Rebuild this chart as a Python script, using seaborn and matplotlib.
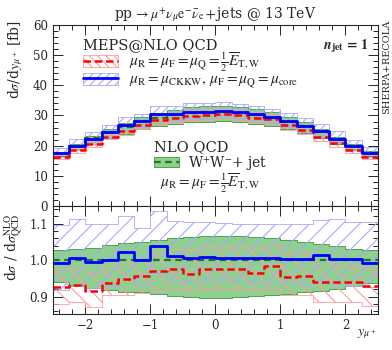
import numpy as np
import matplotlib
matplotlib.use('Agg')
import matplotlib.pyplot as plt
import seaborn as sns
from matplotlib.patches import Patch
from matplotlib.lines import Line2D
from matplotlib.ticker import MultipleLocator

# bin edges in y_mu+
edges = np.linspace(-2.5, 2.5, 21)

# upper panel central values [fb]
nlo = [17.6, 19.9, 22.4, 24.4, 26.2, 28.1, 29.3, 30.0, 30.9, 31.0,
       31.2, 30.8, 30.2, 29.3, 28.0, 26.4, 24.5, 22.2, 19.9, 17.7]
meps_ckkw = [17.6, 20.0, 22.3, 24.4, 26.8, 28.2, 30.4, 30.4, 31.1, 31.3,
             31.4, 31.0, 30.4, 29.5, 28.1, 26.5, 24.8, 22.3, 20.0, 17.6]
meps_et = [16.3, 18.6, 20.5, 22.9, 24.9, 26.9, 28.4, 29.3, 29.7, 30.2,
           30.5, 30.1, 29.1, 28.8, 26.7, 25.2, 23.0, 20.9, 18.7, 16.4]

# ratio panel (to NLO central)
r_ckkw = [0.992, 1.006, 0.994, 1.001, 1.023, 1.001, 1.038, 1.011, 1.006, 1.009,
          1.007, 1.006, 1.006, 1.006, 1.004, 1.004, 1.013, 1.004, 1.004, 0.993]
r_ckkw_hi = [1.097, 1.113, 1.100, 1.100, 1.120, 1.088, 1.135, 1.106, 1.104, 1.104,
             1.102, 1.100, 1.100, 1.100, 1.100, 1.100, 1.110, 1.114, 1.105, 1.105]
r_ckkw_lo = [0.918, 0.930, 0.925, 0.930, 0.950, 0.935, 0.965, 0.945, 0.940, 0.945,
             0.945, 0.942, 0.940, 0.940, 0.938, 0.935, 0.945, 0.935, 0.930, 0.927]
r_et = [0.926, 0.932, 0.915, 0.938, 0.950, 0.956, 0.970, 0.976, 0.961, 0.975,
        0.976, 0.976, 0.965, 0.984, 0.955, 0.956, 0.940, 0.940, 0.940, 0.929]
r_et_hi = [0.975, 0.975, 0.965, 0.985, 0.995, 1.000, 1.020, 1.030, 1.030, 1.035,
           1.035, 1.035, 1.030, 1.045, 1.020, 1.020, 1.000, 0.990, 0.985, 0.975]
r_et_lo = [0.880, 0.885, 0.872, 0.905, 0.905, 0.910, 0.915, 0.920, 0.915, 0.920,
           0.920, 0.920, 0.915, 0.925, 0.905, 0.905, 0.885, 0.885, 0.885, 0.875]
r_nlo_hi = [1.027, 1.032, 1.034, 1.042, 1.047, 1.050, 1.056, 1.060, 1.063, 1.066,
            1.066, 1.065, 1.063, 1.060, 1.056, 1.050, 1.045, 1.038, 1.032, 1.027]
r_nlo_lo = [0.940, 0.932, 0.925, 0.918, 0.914, 0.912, 0.907, 0.903, 0.900, 0.898,
            0.898, 0.900, 0.902, 0.904, 0.907, 0.912, 0.916, 0.922, 0.930, 0.937]

sns.set_style('ticks')
plt.rcParams['font.family'] = ['DejaVu Serif']
plt.rcParams['mathtext.fontset'] = 'stix'
plt.rcParams['hatch.linewidth'] = 0.8
plt.rcParams['font.size'] = 9

GREEN_FILL = '#8fcf8f'
GREEN_EDGE = '#3a9a3a'
GREEN_LINE = '#1f7a1f'
BLUE_HATCH = '#a8a8ff'
RED_HATCH = '#ff9c9c'


def ext(v):
    v = np.asarray(v, dtype=float)
    return np.append(v, v[-1])


def step(ax, vals, **kw):
    sns.lineplot(x=edges, y=ext(vals), drawstyle='steps-post', estimator=None,
                 ax=ax, legend=False, **kw)


def band(ax, lo, hi, **kw):
    ax.fill_between(edges, ext(lo), ext(hi), step='post', **kw)


fig = plt.figure(figsize=(3.92, 3.5), dpi=100)
ax1 = fig.add_axes([0.135, 0.411, 0.829, 0.518])
ax2 = fig.add_axes([0.135, 0.103, 0.829, 0.308], sharex=ax1)

nlo_a = np.asarray(nlo)
# upper panel
band(ax1, nlo_a * r_nlo_lo, nlo_a * r_nlo_hi, facecolor=GREEN_FILL, edgecolor=GREEN_EDGE, lw=0.6, zorder=1)
band(ax1, nlo_a * r_et_lo, nlo_a * r_et_hi, facecolor='none', edgecolor=RED_HATCH, hatch='\\\\\\\\', lw=0.6, zorder=2)
band(ax1, nlo_a * r_ckkw_lo, nlo_a * r_ckkw_hi, facecolor='none', edgecolor=BLUE_HATCH, hatch='////', lw=0.6, zorder=2)
step(ax1, nlo, color=GREEN_LINE, lw=1.6, linestyle=(0, (3, 2)), zorder=3)
step(ax1, meps_et, color='red', lw=1.8, linestyle=(0, (3, 1.5)), zorder=4)
step(ax1, meps_ckkw, color='blue', lw=2.0, zorder=5)

# ratio panel
band(ax2, r_nlo_lo, r_nlo_hi, facecolor=GREEN_FILL, edgecolor=GREEN_EDGE, lw=0.6, zorder=1)
band(ax2, r_et_lo, r_et_hi, facecolor='none', edgecolor=RED_HATCH, hatch='\\\\', lw=0.6, zorder=2)
band(ax2, r_ckkw_lo, r_ckkw_hi, facecolor='none', edgecolor=BLUE_HATCH, hatch='//', lw=0.6, zorder=2)
step(ax2, np.ones(20), color=GREEN_LINE, lw=1.6, linestyle=(0, (3, 2)), zorder=3)
step(ax2, r_et, color='red', lw=1.8, linestyle=(0, (3, 1.5)), zorder=4)
step(ax2, r_ckkw, color='blue', lw=2.0, zorder=5)

for ax in (ax1, ax2):
    ax.set_xlim(-2.5, 2.5)
    ax.xaxis.set_major_locator(MultipleLocator(1))
    ax.xaxis.set_minor_locator(MultipleLocator(0.2))
    ax.tick_params(which='both', direction='in', top=True, right=True, width=0.7)
    ax.tick_params(which='major', length=7, labelsize=8.5)
    ax.tick_params(which='minor', length=3.5)
    ax.set_xlabel('')
    ax.set_ylabel('')
    for s in ax.spines.values():
        s.set_linewidth(0.8)

ax1.set_ylim(0, 60)
ax1.yaxis.set_major_locator(MultipleLocator(10))
ax1.yaxis.set_minor_locator(MultipleLocator(2))
ax1.tick_params(labelbottom=False)
ax2.set_ylim(0.853, 1.148)
ax2.yaxis.set_major_locator(MultipleLocator(0.1))
ax2.yaxis.set_minor_locator(MultipleLocator(0.02))
ax2.set_yticks([0.9, 1.0, 1.1])
ax2.set_yticklabels(['0.9', '1.0', '1.1'])

ax1.set_title(r'pp$\,\rightarrow\mu^{+}\nu_{\mu}\mathrm{e}^{-}\bar{\nu}_{\mathrm{e}}+$jets @ 13 TeV',
              fontsize=10, pad=5)
fig.text(0.04, 0.83, r'd$\sigma$/d$y_{\mu^+}$ [fb]', rotation=90, ha='center', va='center', fontsize=10)
fig.text(0.035, 0.294, r'd$\sigma$ / d$\sigma^{\mathrm{NLO}}_{\mathrm{QCD}}$', rotation=90,
         ha='center', va='center', fontsize=10)
fig.text(0.935, 0.045, r'$y_{\mu^+}$', ha='center', va='center', fontsize=10)
fig.text(0.986, 0.81, 'SHERPA+RECOLA', rotation=90, ha='center', va='center', fontsize=7)
ax1.text(0.97, 0.88, r'$\mathbfit{n}_{\mathbf{jet}}\mathbf{\,=\,1}$', transform=ax1.transAxes,
         ha='right', va='center', fontsize=10)

h_et = (Patch(facecolor='none', edgecolor=RED_HATCH, hatch='\\\\\\\\', lw=0.6),
        Line2D([], [], color='red', lw=1.8, linestyle=(0, (3, 1.5))))
h_ckkw = (Patch(facecolor='none', edgecolor=BLUE_HATCH, hatch='////', lw=0.6),
          Line2D([], [], color='blue', lw=2.0))
leg1 = ax1.legend([h_et, h_ckkw],
                  [r'$\mu_{\mathrm{R}}=\mu_{\mathrm{F}}=\mu_{\mathrm{Q}}=\frac{1}{2}\overline{E}_{\mathrm{T,W}}$',
                   r'$\mu_{\mathrm{R}}=\mu_{\mathrm{CKKW}},\,\mu_{\mathrm{F}}=\mu_{\mathrm{Q}}=\mu_{\mathrm{core}}$'],
                  title='MEPS@NLO QCD', loc='upper left', bbox_to_anchor=(0.06, 0.985),
                  frameon=False, fontsize=11, title_fontsize=10.5, handlelength=2.3,
                  handleheight=0.8, labelspacing=-0.1, borderpad=0.2, handletextpad=0.7)
leg1._legend_box.align = 'left'
ax1.add_artist(leg1)

h_nlo = (Patch(facecolor=GREEN_FILL, edgecolor=GREEN_EDGE, lw=0.6),
         Line2D([], [], color=GREEN_LINE, lw=1.6, linestyle=(0, (3, 2))))
leg2 = ax1.legend([h_nlo], [r'W$^{+}$W$^{-}$+ jet'], title='NLO QCD', loc='upper left',
                  bbox_to_anchor=(0.28, 0.42), frameon=False, fontsize=10, title_fontsize=10.5,
                  handlelength=1.8, handleheight=0.8, labelspacing=0.0, borderpad=0.2,
                  handletextpad=0.7)
leg2._legend_box.align = 'left'
ax1.text(0.33, 0.125, r'$\mu_{\mathrm{R}}=\mu_{\mathrm{F}}=\frac{1}{2}\overline{E}_{\mathrm{T,W}}$',
         transform=ax1.transAxes, ha='left', va='center', fontsize=11)

fig.savefig('out.png', dpi=100)
